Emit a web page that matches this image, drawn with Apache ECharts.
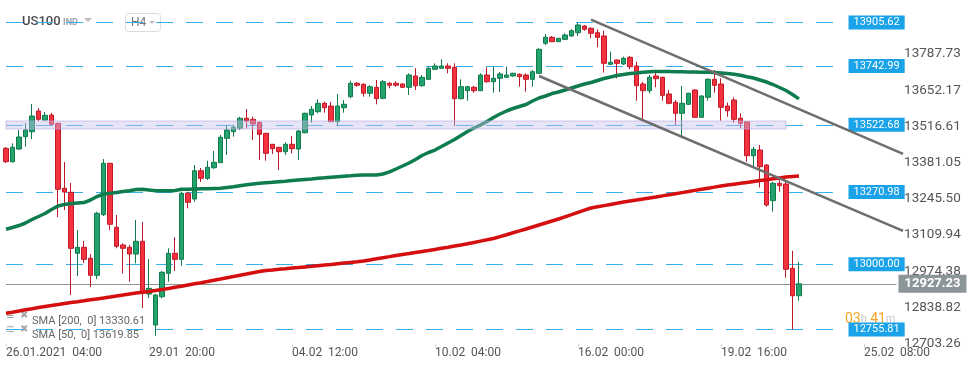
<!DOCTYPE html>
<html><head><meta charset="utf-8">
<script src="https://cdn.jsdelivr.net/npm/echarts@6/dist/echarts.min.js"></script>
<style>html,body{margin:0;padding:0;background:#fff}#c{width:970px;height:368px}</style>
</head><body><div id="c"></div>
<script>
// ---- data (H4 candles, US100) ----
const opens = [13434.6,13384.4,13432.0,13478.1,13496.8,13574.3,13540.6,13559.3,13528.2,13284.8,
13269.8,13041.4,13063.9,13022.7,12959.0,13186.0,13378.4,13138.8,13072.5,13063.9,
13038.8,13086.3,12889.0,12772.9,12878.9,12966.5,13041.4,13018.9,13266.1,13244.7,
13350.7,13322.3,13362.0,13380.7,13472.1,13496.8,13509.5,13547.0,13543.2,13532.0,
13490.8,13449.6,13438.4,13421.9,13449.6,13432.0,13493.0,13559.3,13571.7,13603.1,
13593.0,13534.2,13586.7,13627.9,13678.0,13674.3,13640.6,13663.1,13621.9,13678.0,
13678.0,13675.4,13663.1,13705.4,13669.1,13693.0,13730.5,13734.2,13742.8,13738.0,
13620.4,13650.3,13663.1,13650.3,13709.1,13684.0,13696.8,13700.5,13705.4,13711.7,
13709.1,13693.0,13715.5,13827.8,13850.3,13833.8,13842.8,13855.2,13867.5,13892.6,
13884.0,13867.5,13855.2,13749.2,13765.3,13750.3,13775.4,13742.8,13675.4,13650.3,
13705.4,13700.5,13638.0,13606.9,13565.7,13599.4,13652.9,13550.7,13625.6,13693.0,
13675.4,13593.0,13615.5,13547.0,13534.2,13406.9,13428.2,13372.1,13238.4,13303.5,
13300.9,12985.2,12882.6];
const closes = [13384.4,13438.4,13476.9,13503.1,13555.6,13543.2,13558.2,13524.5,13281.1,13271.0,
13060.1,13063.9,13018.9,12959.0,13191.2,13378.4,13150.0,13067.6,13060.1,13038.8,
13086.3,12891.6,12910.3,12885.2,12970.2,13041.4,13018.9,13266.1,13232.4,13350.7,
13322.3,13363.5,13382.2,13475.8,13503.1,13513.3,13547.0,13536.9,13525.6,13487.0,
13415.9,13433.1,13421.9,13449.6,13433.1,13499.4,13565.7,13580.7,13603.1,13586.7,
13534.2,13593.0,13599.4,13678.0,13670.6,13640.6,13665.3,13620.4,13684.0,13670.6,
13670.6,13663.1,13709.1,13669.1,13700.5,13734.2,13742.8,13742.8,13734.2,13620.4,
13665.3,13665.3,13650.3,13709.1,13684.0,13696.8,13712.9,13709.1,13715.5,13702.8,
13693.0,13721.5,13805.4,13850.3,13833.8,13846.6,13858.9,13875.0,13896.4,13880.3,
13865.3,13850.3,13752.9,13756.7,13752.9,13771.7,13740.2,13669.1,13650.3,13700.5,
13695.3,13633.1,13603.1,13565.7,13603.1,13640.6,13550.7,13630.5,13693.0,13670.6,
13588.2,13575.4,13543.2,13528.2,13406.9,13430.9,13365.7,13222.3,13303.5,13294.6,
12981.5,12882.6,12927.23];
const lows = [13379.6,13381.4,13428.2,13440.6,13469.4,13536.9,13538.0,13521.9,13177.3,13203.5,
12885.2,12956.4,13005.0,12915.2,12945.1,13181.1,13128.6,13060.1,12966.5,12935.0,
13003.9,12836.5,12874.0,12732.8,12872.9,12935.0,12975.1,12995.0,13209.9,13234.6,
13308.4,13315.9,13357.1,13379.6,13409.5,13478.1,13503.1,13509.5,13465.7,13390.8,
13388.2,13413.3,13353.3,13409.5,13415.9,13390.8,13490.8,13530.5,13565.7,13567.9,
13533.0,13518.1,13567.9,13621.9,13665.3,13627.9,13627.9,13599.4,13618.1,13659.3,
13665.3,13660.4,13634.2,13652.9,13665.3,13690.4,13727.8,13734.2,13715.5,13518.1,
13618.1,13612.9,13642.8,13650.3,13680.3,13642.8,13645.5,13697.9,13702.8,13665.3,
13646.6,13665.3,13712.9,13821.5,13832.7,13832.7,13840.2,13852.6,13855.2,13875.0,
13846.6,13812.9,13717.7,13746.6,13696.8,13746.6,13730.5,13612.9,13543.2,13640.6,
13663.1,13612.9,13599.4,13521.9,13472.1,13596.8,13549.2,13548.0,13612.9,13642.8,
13538.0,13553.0,13530.5,13509.5,13384.4,13365.7,13287.8,13215.9,13197.2,13272.1,
12950.0,12755.8,12863.9];
const highs = [13439.5,13453.3,13503.1,13529.4,13600.5,13585.5,13570.6,13566.8,13530.0,13383.3,
13304.7,13128.6,13087.5,13038.8,13197.2,13394.5,13380.0,13184.8,13078.8,13072.5,
13166.1,13158.6,13020.0,12889.0,12975.1,13060.1,13101.3,13272.1,13272.1,13372.1,
13360.8,13388.2,13424.5,13484.4,13521.9,13521.9,13553.0,13581.8,13553.0,13534.2,
13492.0,13450.5,13439.5,13457.1,13480.7,13503.1,13567.9,13593.0,13618.1,13609.1,
13609.1,13638.0,13615.5,13687.8,13682.9,13678.0,13671.7,13690.4,13690.4,13682.9,
13685.5,13678.0,13715.5,13734.2,13709.1,13740.2,13752.9,13767.9,13752.9,13752.9,
13693.0,13667.9,13667.9,13715.5,13738.0,13740.2,13720.4,13740.2,13717.7,13715.5,
13715.5,13727.8,13809.1,13862.7,13855.2,13847.7,13865.3,13880.3,13905.6,13896.4,
13887.8,13880.3,13875.0,13796.4,13766.5,13777.7,13780.3,13758.9,13684.0,13709.1,
13717.7,13702.8,13652.9,13615.5,13667.9,13642.8,13655.6,13633.0,13696.8,13727.8,
13696.8,13605.4,13625.6,13565.7,13534.2,13440.6,13447.0,13375.8,13309.5,13315.9,
13309.5,13051.1,13009.8];
const sma50 = [13131.3,13138.0,13145.5,13154.9,13168.0,13179.2,13190.4,13205.4,13218.5,13224.1,
13227.9,13229.8,13231.6,13241.0,13254.1,13263.5,13266.1,13269.1,13272.8,13275.8,
13280.3,13281.1,13278.4,13275.8,13275.8,13275.8,13276.6,13281.1,13281.4,13282.2,
13282.9,13282.9,13284.1,13284.8,13287.8,13290.8,13294.6,13297.9,13300.9,13303.5,
13305.4,13307.3,13309.5,13311.4,13314.0,13315.9,13317.8,13319.6,13322.3,13324.1,
13326.0,13327.9,13329.8,13331.6,13333.9,13334.6,13334.6,13334.6,13338.4,13346.6,
13357.1,13368.3,13379.6,13392.7,13407.7,13418.9,13428.2,13441.4,13454.5,13467.6,
13482.6,13497.5,13510.6,13521.9,13535.0,13550.0,13563.1,13574.3,13583.7,13591.2,
13598.6,13611.8,13623.0,13630.5,13639.8,13645.5,13652.9,13660.4,13667.9,13675.4,
13681.0,13688.5,13696.0,13701.6,13707.3,13711.0,13714.7,13716.6,13719.2,13721.5,
13722.2,13722.2,13722.2,13721.5,13721.5,13720.4,13720.4,13719.6,13719.2,13718.5,
13716.6,13714.7,13711.7,13708.0,13702.8,13697.9,13690.4,13682.9,13673.5,13662.3,
13651.1,13636.1,13619.85];
const sma200 = [12816.7,12820.4,12825.3,12829.8,12833.9,12838.4,12842.2,12845.9,12849.6,12853.4,
12857.1,12860.1,12863.5,12867.2,12870.6,12874.0,12877.7,12881.5,12885.2,12889.0,
12892.7,12895.3,12898.3,12902.1,12905.8,12909.6,12914.1,12918.2,12922.7,12927.2,
12931.3,12935.8,12940.7,12945.1,12950.0,12954.5,12959.4,12963.9,12968.7,12972.9,
12977.0,12979.2,12981.5,12983.7,12986.0,12988.2,12990.5,12992.7,12995.0,12997.2,
12999.4,13002.1,13004.7,13007.3,13009.9,13012.6,13016.7,13020.8,13024.9,13029.0,
13033.2,13036.9,13040.6,13044.4,13048.1,13051.9,13056.0,13060.1,13064.2,13068.4,
13072.5,13077.3,13082.2,13087.1,13091.9,13096.8,13103.9,13111.0,13118.2,13125.3,
13132.4,13139.9,13147.4,13154.9,13162.4,13169.8,13178.1,13186.3,13194.6,13202.8,
13211.0,13215.5,13220.0,13224.5,13229.0,13233.5,13237.3,13241.0,13244.7,13248.5,
13252.2,13256.4,13260.5,13264.6,13268.7,13272.8,13277.0,13281.1,13285.2,13289.3,
13293.4,13296.8,13300.2,13303.5,13306.9,13310.3,13313.7,13317.0,13320.4,13323.8,
13327.1,13329.0,13330.61];
const levels = [13905.62, 13742.99, 13522.68, 13270.98, 13000.00, 12755.81];
const lastPrice = 12927.23;
const band = [13536.8, 13506.9];
const trendUpper = [[90, 13916.2], [138, 13414.0]];
const trendLower = [[82, 13705.4], [138, 13125.3]];
const xTickLabels = ['26.01.2021  04:00', '29.01  20:00', '04.02  12:00', '10.02  04:00', '16.02  00:00', '19.02  16:00', '25.02  08:00'];
const yTickLabels = ['12703.26','12838.82','12974.38','13109.94','13245.50','13381.05','13516.61','13652.17','13787.73'];

// ---- chart ----
const N_SLOTS = 148;
const categories = Array.from({length: N_SLOTS}, (_, i) => String(i));
const candleData = opens.map((o, i) => [o, closes[i], lows[i], highs[i]]);
const Y_MIN = 12703.26, Y_INT = 135.55875, Y_MAX = 13990;
const FONT = 'Roboto, "Noto Sans", sans-serif';

const levelLines = levels.map(v => [
  {name: v.toFixed(2), coord: [0, v]},
  {name: v.toFixed(2), coord: [129, v]}
]);
const priceStyle = {color: '#8c9598', type: 'solid', width: 1};
const priceLabel = {backgroundColor: '#8c9598', fontSize: 13, fontWeight: 'bold', padding: [3, 6, 2, 6], distance: 2};
levelLines.push([
  {name: lastPrice.toFixed(2), coord: [0, lastPrice], lineStyle: priceStyle, label: priceLabel},
  {name: lastPrice.toFixed(2), coord: [137, lastPrice], lineStyle: priceStyle, label: priceLabel}
]);

const chart = echarts.init(document.getElementById('c'));
chart.setOption({
  animation: false,
  backgroundColor: '#ffffff',
  textStyle: {fontFamily: FONT},
  grid: {left: 2.75, right: 5.25, top: 0, bottom: 24.4, containLabel: false},
  xAxis: {
    type: 'category', data: categories, boundaryGap: true,
    axisLine: {show: false},
    axisTick: {show: true, interval: 21, alignWithLabel: true, length: 4, lineStyle: {color: '#d6d6d6'}},
    axisLabel: {
      interval: 21, align: 'left', margin: 3, color: '#555', fontSize: 12, fontFamily: FONT,
      formatter: (v, idx) => xTickLabels[Math.round(idx / 22)] || ''
    },
    splitLine: {show: false}
  },
  yAxis: {
    type: 'value', position: 'right', min: Y_MIN, max: Y_MAX, interval: Y_INT, scale: true,
    axisLine: {show: false}, axisTick: {show: false}, splitLine: {show: false},
    axisLabel: {
      inside: true, margin: 4, color: '#555', fontSize: 13.5, fontFamily: FONT,
      formatter: v => {
        const k = Math.round((v - Y_MIN) / Y_INT);
        if (Math.abs(v - (Y_MIN + k * Y_INT)) > 0.5) return '';
        return yTickLabels[k] || '';
      }
    }
  },
  series: [
    {
      type: 'candlestick', data: candleData, barWidth: 5, z: 2,
      itemStyle: {color: '#25a36f', color0: '#f4333f', borderColor: '#0f7a4a', borderColor0: '#c01828', borderWidth: 1},
      markLine: {
        silent: true, z: 1, symbol: ['none', 'none'], animation: false,
        lineStyle: {color: '#35b0ec', width: 1.2, type: [17, 13]},
        label: {show: true, position: 'end', distance: 4, formatter: '{b}', backgroundColor: '#1aa3e8',
                color: '#fff', fontSize: 11, fontFamily: FONT, padding: [2, 5, 1, 5]},
        emphasis: {disabled: true},
        data: levelLines
      },
      markArea: {
        silent: true, z: 4,
        itemStyle: {color: 'rgba(200,190,236,0.42)', borderColor: 'rgba(180,166,222,0.6)', borderWidth: 1},
        label: {show: false},
        data: [[{coord: [0, band[0]]}, {coord: [120, band[1]]}]]
      }
    },
    {
      type: 'line', data: sma200, showSymbol: false, z: 3,
      lineStyle: {color: '#d50f10', width: 3.5}, itemStyle: {color: '#d50f10'}
    },
    {
      type: 'line', data: sma50, showSymbol: false, z: 3,
      lineStyle: {color: '#0e7c4e', width: 3.5}, itemStyle: {color: '#0e7c4e'},
      markLine: {
        silent: true, z: 6, symbol: ['none', 'none'], animation: false,
        lineStyle: {color: '#6e6e6e', width: 2.5, type: 'solid'},
        label: {show: false},
        data: [
          [{coord: trendUpper[0]}, {coord: trendUpper[1]}],
          [{coord: trendLower[0]}, {coord: trendLower[1]}]
        ]
      }
    }
  ],
  graphic: [
    {type: 'text', x: 22, y: 22, style: {text: 'US100', fill: '#4a4a4a', font: '500 13px ' + FONT, verticalAlign: 'middle'}},
    {type: 'text', x: 63, y: 23, style: {text: 'IND', fill: '#a0a4ad', font: 'bold 9px ' + FONT, verticalAlign: 'middle'}},
    {type: 'polygon', shape: {points: [[84, 18], [92, 18], [88, 22]]}, style: {fill: '#bdbdbd'}},
    {type: 'rect', shape: {x: 125.5, y: 13.5, width: 35, height: 18, r: 3}, style: {fill: 'none', stroke: '#dcdcdc', lineWidth: 1}},
    {type: 'text', x: 131, y: 23, style: {text: 'H4', fill: '#777', font: '12px ' + FONT, verticalAlign: 'middle'}},
    {type: 'polygon', shape: {points: [[149, 21], [155, 21], [152, 24]]}, style: {fill: '#bdbdbd'}},
    {type: 'text', x: 6, y: 316, style: {text: '≡', fill: '#a8a8a8', font: 'bold 14px ' + FONT, verticalAlign: 'middle'}},
    {type: 'text', x: 20, y: 315, style: {text: '✖', fill: '#a8a8a8', font: '10px "DejaVu Sans"', verticalAlign: 'middle'}},
    {type: 'text', x: 32, y: 321, style: {text: 'SMA [200,  0] ' + sma200[sma200.length - 1].toFixed(2), fill: '#666', font: '11px ' + FONT, verticalAlign: 'middle'}},
    {type: 'text', x: 6, y: 330, style: {text: '≡', fill: '#a8a8a8', font: 'bold 14px ' + FONT, verticalAlign: 'middle'}},
    {type: 'text', x: 20, y: 329, style: {text: '✖', fill: '#a8a8a8', font: '10px "DejaVu Sans"', verticalAlign: 'middle'}},
    {type: 'text', x: 32, y: 335, style: {text: 'SMA [50,  0] ' + sma50[sma50.length - 1].toFixed(2), fill: '#666', font: '11px ' + FONT, verticalAlign: 'middle'}},
    {type: 'text', x: 845, y: 319, z: -1, style: {
      text: '{o|03}{g|h} {o|41}{g|m}', verticalAlign: 'middle',
      rich: {o: {fill: '#f5a623', font: '14px ' + FONT}, g: {fill: '#c8c8c8', font: '11px ' + FONT}}
    }}
  ]
});
</script></body></html>
